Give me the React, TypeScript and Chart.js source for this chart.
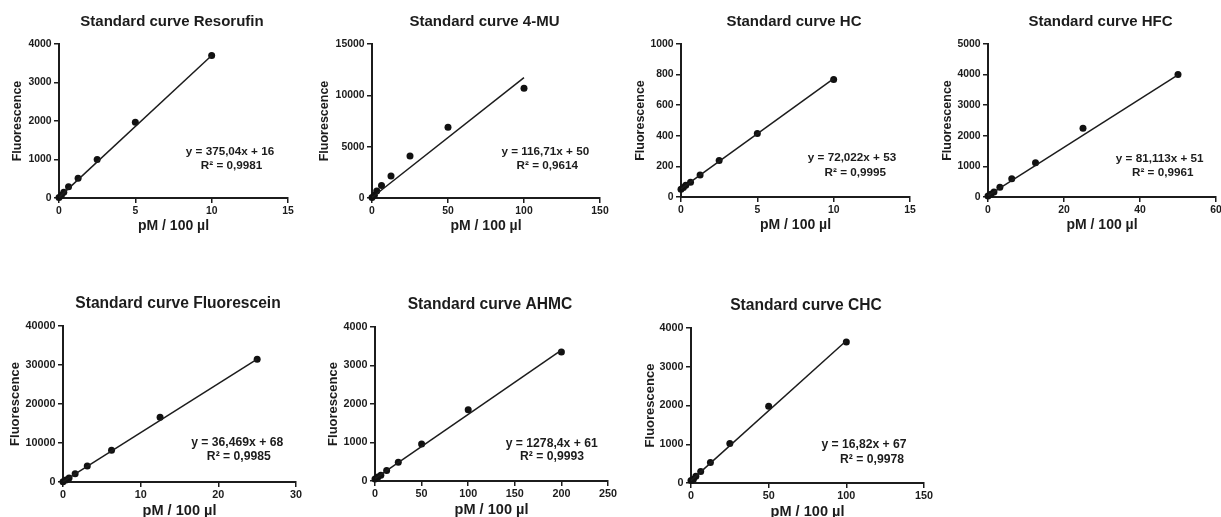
import React, { useEffect, useRef } from "react";
import { Chart, registerables } from "chart.js";

Chart.register(...registerables);

// ---------- data ----------
const resorufinX = [0, 0.156, 0.3125, 0.625, 1.25, 2.5, 5, 10];
const resorufinY = [10, 70, 150, 290, 510, 1000, 1970, 3700];
const resorufinFit = [16, 3700];
const resorufinXTicks = [0, 5, 10, 15];
const resorufinYTicks = [0, 1000, 2000, 3000, 4000];

const muX = [0, 1.5625, 3.125, 6.25, 12.5, 25, 50, 100];
const muY = [50, 280, 670, 1220, 2150, 4100, 6900, 10700];
const muFit = [50, 11720];
const muXTicks = [0, 50, 100, 150];
const muYTicks = [0, 5000, 10000, 15000];

const hcX = [0, 0.156, 0.3125, 0.625, 1.25, 2.5, 5, 10];
const hcY = [50, 62, 76, 96, 143, 238, 415, 768];
const hcFit = [53, 773];
const hcXTicks = [0, 5, 10, 15];
const hcYTicks = [0, 200, 400, 600, 800, 1000];

const hfcX = [0, 0.78, 1.5625, 3.125, 6.25, 12.5, 25, 50];
const hfcY = [30, 88, 165, 322, 600, 1120, 2250, 4000];
const hfcFit = [45, 3990];
const hfcXTicks = [0, 20, 40, 60];
const hfcYTicks = [0, 1000, 2000, 3000, 4000, 5000];

const fluoX = [0, 0.39, 0.78, 1.5625, 3.125, 6.25, 12.5, 25];
const fluoY = [68, 500, 1050, 2100, 4100, 8150, 16600, 31500];
const fluoFit = [68, 31500];
const fluoXTicks = [0, 10, 20, 30];
const fluoYTicks = [0, 10000, 20000, 30000, 40000];

const ahmcX = [0, 3.125, 6.25, 12.5, 25, 50, 100, 200];
const ahmcY = [50, 104, 150, 270, 490, 960, 1850, 3350];
const ahmcFit = [61, 3400];
const ahmcXTicks = [0, 50, 100, 150, 200, 250];
const ahmcYTicks = [0, 1000, 2000, 3000, 4000];

const chcX = [0, 1.5625, 3.125, 6.25, 12.5, 25, 50, 100];
const chcY = [67, 100, 172, 300, 530, 1020, 1980, 3640];
const chcFit = [60, 3670];
const chcXTicks = [0, 50, 100, 150];
const chcYTicks = [0, 1000, 2000, 3000, 4000];

const titles = [
  "Standard curve Resorufin",
  "Standard curve 4-MU",
  "Standard curve HC",
  "Standard curve HFC",
  "Standard curve Fluorescein",
  "Standard curve AHMC",
  "Standard curve CHC",
];
const equations = [
  ["y = 375,04x + 16", "R\u00B2 = 0,9981"],
  ["y = 116,71x + 50", "R\u00B2 = 0,9614"],
  ["y = 72,022x + 53", "R\u00B2 = 0,9995"],
  ["y = 81,113x + 51", "R\u00B2 = 0,9961"],
  ["y = 36,469x + 68", "R\u00B2 = 0,9985"],
  ["y = 1278,4x + 61", "R\u00B2 = 0,9993"],
  ["y = 16,82x + 67", "R\u00B2 = 0,9978"],
];
const xAxisTitle = "pM / 100 \u00B5l";
const yAxisTitle = "Fluorescence";

// ---------- layout (page pixels) ----------
type Layout = {
  area: [number, number, number, number];
  eq: [number, number, number, number];
  yTitleDist: number;
  fs: number;
};
const layouts: Layout[] = [
  { area: [59.3, 44, 288, 197.5], eq: [171, 108, 172.5, 122], yTitleDist: 41, fs: 1 },
  { area: [371.7, 44, 600, 197.7], eq: [173.3, 107.7, 175.3, 121.7], yTitleDist: 47, fs: 1 },
  { area: [681, 44, 910, 197], eq: [171, 114, 174.3, 128.3], yTitleDist: 40.5, fs: 1 },
  { area: [988.3, 44, 1216.7, 197], eq: [171.7, 114.3, 174.7, 128.3], yTitleDist: 40, fs: 1 },
  { area: [62.5, 326, 295, 481.7], eq: [174.2, 116.7, 175.8, 130.7], yTitleDist: 47.5, fs: 1.04 },
  { area: [375, 326.7, 607.7, 480.7], eq: [176.7, 116.6, 177, 130], yTitleDist: 41.5, fs: 1.04 },
  { area: [690.7, 327.7, 924, 482.7], eq: [173, 116.3, 181, 131.3], yTitleDist: 40.7, fs: 1.04 },
];

const panelsData = [
  { xs: resorufinX, ys: resorufinY, fit: resorufinFit, xt: resorufinXTicks, yt: resorufinYTicks },
  { xs: muX, ys: muY, fit: muFit, xt: muXTicks, yt: muYTicks },
  { xs: hcX, ys: hcY, fit: hcFit, xt: hcXTicks, yt: hcYTicks },
  { xs: hfcX, ys: hfcY, fit: hfcFit, xt: hfcXTicks, yt: hfcYTicks },
  { xs: fluoX, ys: fluoY, fit: fluoFit, xt: fluoXTicks, yt: fluoYTicks },
  { xs: ahmcX, ys: ahmcY, fit: ahmcFit, xt: ahmcXTicks, yt: ahmcYTicks },
  { xs: chcX, ys: chcY, fit: chcFit, xt: chcXTicks, yt: chcYTicks },
];

const FONT = '"Liberation Sans", Arial, Helvetica, sans-serif';
const INK = "#1c1c1c";
const YW = 60;
const TOPPAD = 34;
const XH = 40;
const RPAD = 16;

const textPlugin = {
  id: "panelText",
  afterDraw(chart: any, _args: any, opts: any) {
    const { ctx, chartArea } = chart;
    ctx.save();
    ctx.fillStyle = INK;
    ctx.textAlign = "center";
    ctx.textBaseline = "middle";
    ctx.font = `bold ${15 * opts.fs}px ${FONT}`;
    ctx.fillText(opts.title, (chartArea.left + chartArea.right) / 2 - 1.5, chartArea.top - 22.5);
    ctx.font = `bold ${11.7 * opts.fs}px ${FONT}`;
    ctx.fillText(opts.eqText[0], chartArea.left + opts.eq[0], chartArea.top + opts.eq[1]);
    ctx.fillText(opts.eqText[1], chartArea.left + opts.eq[2], chartArea.top + opts.eq[3]);
    ctx.restore();
  },
};

function Panel({ idx }: { idx: number }) {
  const ref = useRef<HTMLCanvasElement | null>(null);
  const lay = layouts[idx];
  const d = panelsData[idx];
  const [l, t, r, b] = lay.area;
  const aw = r - l;
  const ah = b - t;
  const cw = Math.round(YW + aw + RPAD);
  const ch = Math.round(TOPPAD + ah + XH);
  const left = l - YW;
  const top = t - TOPPAD;

  useEffect(() => {
    if (!ref.current) return;
    const fs = lay.fs;
    const tickFont = { family: FONT, size: 10.4 * fs, weight: "bold" as const };
    const yTitleFont = { family: FONT, size: 12.5 * fs, weight: "bold" as const };
    const xTitleFont = { family: FONT, size: 14 * fs, weight: "bold" as const };
    const yLH = 12.5 * fs * 1.2;
    const xLH = 14 * fs * 1.2;
    const points = d.xs.map((x, i) => ({ x, y: d.ys[i] }));
    const fitLine = [
      { x: d.xs[0], y: d.fit[0] },
      { x: d.xs[d.xs.length - 1], y: d.fit[1] },
    ];
    const chart = new Chart(ref.current, {
      type: "scatter",
      data: {
        datasets: [
          {
            type: "line",
            data: fitLine,
            borderColor: INK,
            borderWidth: 1.5,
            pointRadius: 0,
            fill: false,
            clip: false,
          } as any,
          {
            data: points,
            pointRadius: 3.5,
            pointHoverRadius: 3.5,
            pointBackgroundColor: "#111",
            pointBorderWidth: 0,
            clip: false,
          } as any,
        ],
      },
      options: {
        animation: false,
        responsive: false,
        events: [],
        layout: { padding: { top: TOPPAD, right: RPAD, left: 0, bottom: 0 } },
        plugins: {
          legend: { display: false },
          tooltip: { enabled: false },
          title: { display: false },
          panelText: { title: titles[idx], eqText: equations[idx], eq: lay.eq, fs },
        } as any,
        scales: {
          x: {
            type: "linear",
            min: d.xt[0],
            max: d.xt[d.xt.length - 1],
            afterBuildTicks: (s: any) => {
              s.ticks = d.xt.map((v) => ({ value: v }));
            },
            afterFit: (s: any) => {
              s.height = XH;
            },
            ticks: {
              font: tickFont,
              color: INK,
              padding: 2,
              autoSkip: false,
              maxRotation: 0,
              callback: (v: any) => String(v),
            },
            grid: { display: true, drawOnChartArea: false, drawTicks: true, tickLength: 5, color: INK, lineWidth: 1.5 },
            border: { display: true, color: INK, width: 2 },
            title: {
              display: true,
              text: xAxisTitle,
              font: xTitleFont,
              color: INK,
              padding: { top: 0, bottom: XH - 28.5 - xLH / 2 },
            },
          },
          y: {
            type: "linear",
            min: d.yt[0],
            max: d.yt[d.yt.length - 1],
            afterBuildTicks: (s: any) => {
              s.ticks = d.yt.map((v) => ({ value: v }));
            },
            afterFit: (s: any) => {
              s.width = YW;
            },
            ticks: {
              font: tickFont,
              color: INK,
              padding: 2.5,
              autoSkip: false,
              callback: (v: any) => String(v),
            },
            grid: { display: true, drawOnChartArea: false, drawTicks: true, tickLength: 5, color: INK, lineWidth: 1.5 },
            border: { display: true, color: INK, width: 2 },
            title: {
              display: true,
              text: yAxisTitle,
              font: yTitleFont,
              color: INK,
              padding: { top: YW - lay.yTitleDist - yLH / 2, bottom: 0 },
            },
          },
        },
      },
      plugins: [textPlugin as any],
    });
    return () => chart.destroy();
  }, [idx]);

  return (
    <canvas
      ref={ref}
      width={cw}
      height={ch}
      style={{ position: "absolute", left, top, width: cw, height: ch, display: "block" }}
    />
  );
}

export default function App() {
  return (
    <div
      style={{
        position: "absolute",
        left: 0,
        top: 0,
        width: 1221,
        height: 517,
        overflow: "hidden",
        background: "#ffffff",
      }}
    >
      {layouts.map((_, i) => (
        <Panel key={i} idx={i} />
      ))}
    </div>
  );
}
